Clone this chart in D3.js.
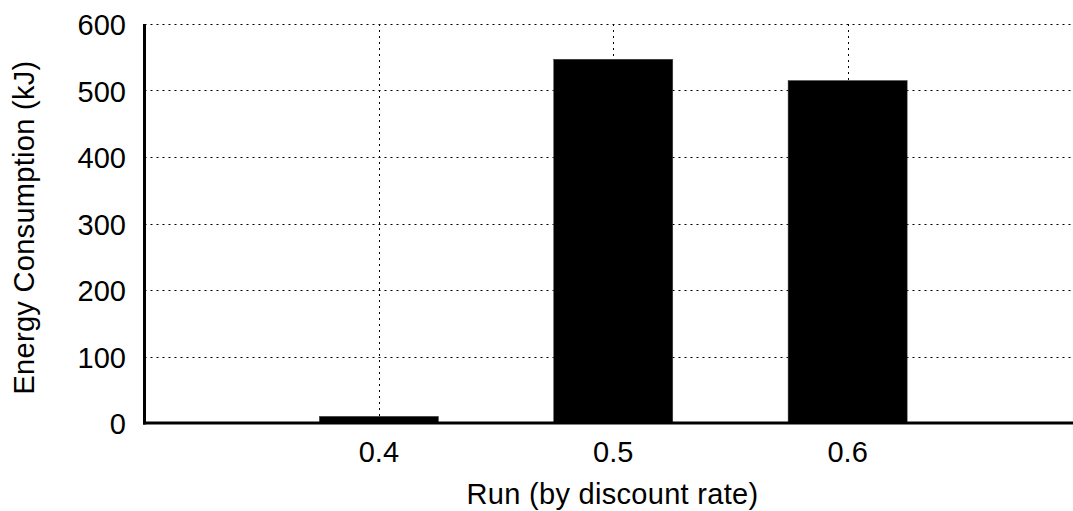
<!DOCTYPE html>
<html>
<head>
<meta charset="utf-8">
<script src="https://cdn.jsdelivr.net/npm/d3@7"></script>
<style>
  html, body { margin: 0; padding: 0; background: #fff; }
  svg { display: block; }
  text { font-family: "Liberation Sans", Arial, sans-serif; fill: #000; }
</style>
</head>
<body>
<svg id="chart" width="1073" height="511"></svg>
<script>
// Data
const runs = [0.4, 0.5, 0.6];
const energy = [10, 547, 515];
const yTicks = [0, 100, 200, 300, 400, 500, 600];
const xTickLabels = ["0.4", "0.5", "0.6"];
const xDomain = [0.3, 0.7];
const yDomain = [0, 600];

(function () {
const svg = d3.select("#chart");
const mLeft = 144.5, mRight = 1082, mTop = 24, mBottom = 423;
const fontSize = 29;

const x = d3.scaleLinear().domain(xDomain).range([mLeft, mRight]);
const y = d3.scaleLinear().domain(yDomain).range([mBottom, mTop]);
const barW = x(0.3508) - x(0.3);

// horizontal grid
svg.append("g").selectAll("line").data(yTicks.filter(d => d > 0)).join("line")
  .attr("x1", mLeft).attr("x2", 1073)
  .attr("y1", d => Math.round(y(d)) + 0.5).attr("y2", d => Math.round(y(d)) + 0.5)
  .attr("stroke", "#000").attr("stroke-width", 1).attr("stroke-dasharray", "2,4");

// vertical grid
svg.append("g").selectAll("line").data(runs).join("line")
  .attr("x1", d => Math.round(x(d)) + 0.5).attr("x2", d => Math.round(x(d)) + 0.5)
  .attr("y1", mTop).attr("y2", mBottom)
  .attr("stroke", "#000").attr("stroke-width", 1).attr("stroke-dasharray", "2,4");

// bars
svg.append("g").selectAll("rect").data(runs).join("rect")
  .attr("x", d => x(d) - barW / 2)
  .attr("y", (d, i) => y(energy[i]))
  .attr("width", barW)
  .attr("height", (d, i) => y(0) - y(energy[i]))
  .attr("fill", "#000").attr("stroke", "#444").attr("stroke-width", 0.5);

// axes lines
svg.append("line").attr("x1", mLeft).attr("x2", mLeft).attr("y1", mTop).attr("y2", mBottom + 1.5)
  .attr("stroke", "#000").attr("stroke-width", 3);
svg.append("line").attr("x1", mLeft - 1.5).attr("x2", 1073).attr("y1", mBottom).attr("y2", mBottom)
  .attr("stroke", "#000").attr("stroke-width", 3);

// y tick labels
svg.append("g").selectAll("text").data(yTicks).join("text")
  .attr("x", 126).attr("y", d => y(d) + 1)
  .attr("text-anchor", "end").attr("dominant-baseline", "central")
  .attr("font-size", fontSize)
  .text(d => d);

// x tick labels
svg.append("g").selectAll("text").data(runs).join("text")
  .attr("x", d => x(d)).attr("y", 462)
  .attr("text-anchor", "middle")
  .attr("font-size", fontSize)
  .text((d, i) => xTickLabels[i]);

// axis titles
svg.append("text").attr("x", 612.5).attr("y", 503.5)
  .attr("text-anchor", "middle").attr("font-size", fontSize)
  .attr("letter-spacing", 0.3)
  .text("Run (by discount rate)");
svg.append("text")
  .attr("transform", "translate(34, 227.5) rotate(-90)")
  .attr("text-anchor", "middle").attr("font-size", fontSize)
  .attr("letter-spacing", 0.3)
  .text("Energy Consumption (kJ)");
})();
</script>
</body>
</html>
